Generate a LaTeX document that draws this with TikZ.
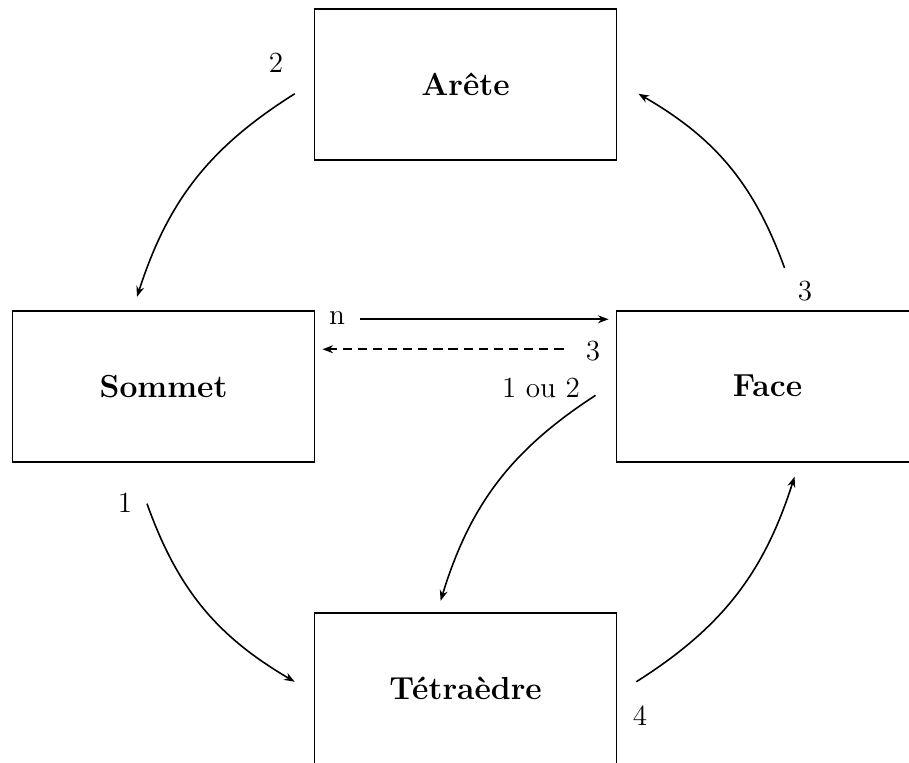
\documentclass[tikz,border=0pt]{standalone}
\usepackage{tikz}
\usetikzlibrary{arrows.meta,positioning}

\begin{document}
\begin{tikzpicture}[x=1cm,y=1cm,
  box/.style={draw,line width=0.7pt,minimum width=4cm,minimum height=2cm,font=\large\bfseries},
  link/.style={semithick,-{Stealth[length=4pt,width=3pt]}},
  num/.style={font=\fontsize{11}{13}\selectfont,inner sep=1pt}]
  \useasboundingbox (-2.166,-4.99) rectangle (9.874,5.116);

  % boxes
  \node[box] (sommet) at (0,0) {Sommet};
  \node[box] (arete) at (4,4) {Arête};
  \node[box] (face) at (8,0) {Face};
  \node[box] (tetra) at (4,-4) {Tétraèdre};

  % curved links
  \draw[link] ([shift={(-0.25,-0.126)}]arete.west) to[bend right=20]
    ([shift={(-0.351,0.172)}]sommet.north);
  \draw[link] ([shift={(0.225,0.556)}]face.north) to[bend right=20]
    ([shift={(0.278,-0.126)}]arete.east);
  \draw[link] ([shift={(-0.219,-0.543)}]sommet.south) to[bend right=20]
    ([shift={(-0.25,0.086)}]tetra.west);
  \draw[link] ([shift={(0.25,0.086)}]tetra.east) to[bend right=20]
    ([shift={(0.358,-0.185)}]face.south);
  \draw[link] ([shift={(-0.265,-0.12)}]face.west) to[bend right=20]
    ([shift={(-0.33,0.146)}]tetra.north);

  % straight links
  \draw[link] ([shift={(0.596,0.887)}]sommet.east) -- ([shift={(-0.093,0.887)}]face.west);
  \draw[link,dash pattern=on 3.5pt off 2.2pt] ([shift={(-0.689,0.49)}]face.west)
    -- ([shift={(0.093,0.49)}]sommet.east);

  % multiplicities: {x}/{y}/{text}
  \foreach \x/\y/\t [count=\i] in {%
    1.49/4.285/2,
    8.496/1.265/3,
    -0.51/-1.543/1,
    6.311/-4.364/4,
    5.0/-0.02/{1 ou 2},
    2.298/0.907/n,
    5.688/0.47/3}{
      \node[num] (mult\i) at (\x,\y) {\t};
  }
\end{tikzpicture}
\end{document}
